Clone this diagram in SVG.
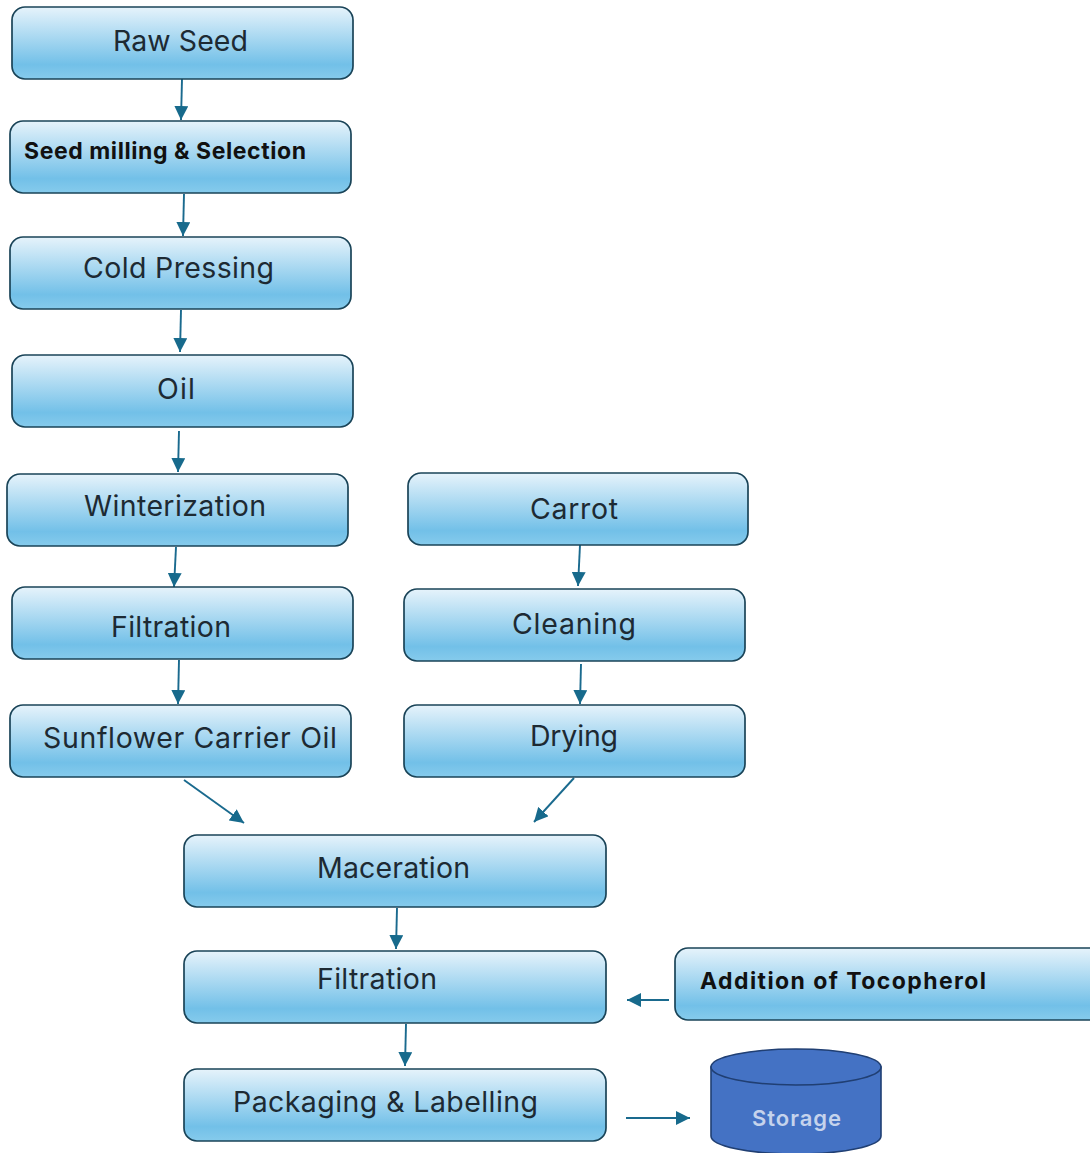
<svg xmlns="http://www.w3.org/2000/svg" width="1090" height="1153" viewBox="0 0 1090 1153">
<style>
text{font-family:Inter,"Open Sans","Liberation Sans",sans-serif;font-size:28.5px;fill:#1d2a33}
.b{fill:url(#g);stroke:#1a4458;stroke-width:1.7}
.bold{font-size:23px;font-weight:700;fill:#111}
.c{fill:none;stroke:#1a6a8e;stroke-width:1.9;marker-end:url(#a)}
</style>
<defs>
<linearGradient id="g" x1="0" y1="0" x2="0" y2="1"><stop offset="0" stop-color="#e6f3fb"/><stop offset=".8" stop-color="#72c0e8"/><stop offset="1" stop-color="#86cbec"/></linearGradient>
<marker id="a" markerUnits="userSpaceOnUse" markerWidth="16" markerHeight="14" refX="14" refY="7" orient="auto"><path d="M0 0L14 7L0 14z" fill="#176a8c"/></marker>
</defs>
<rect width="1090" height="1153" fill="#fff"/>
<g id="connectors">
<path class="c" d="M182 79L181 120"/>
<path class="c" d="M184 194L183 236"/>
<path class="c" d="M181 310L180 352"/>
<path class="c" d="M179 431L178 472"/>
<path class="c" d="M176 547L174 587"/>
<path class="c" d="M179 660L178 704"/>
<path class="c" d="M580 545L578 586"/>
<path class="c" d="M581 664L580 704"/>
<path class="c" d="M184 780L244 823"/>
<path class="c" d="M574 778L534 822"/>
<path class="c" d="M397 908L396 949"/>
<path class="c" d="M406 1024L405 1066"/>
<path class="c" d="M669 1000L627 1000"/>
<path class="c" d="M626 1118L690 1118"/>
</g>
<g id="raw-seed"><rect class="b" x="12" y="7" width="341" height="72" rx="13"/><text x="113" y="51" textLength="135">Raw Seed</text></g>
<g id="seed-milling"><rect class="b" x="10" y="121" width="341" height="72" rx="13"/><text class="bold" x="24" y="159" textLength="282">Seed milling &amp; Selection</text></g>
<g id="cold-pressing"><rect class="b" x="10" y="237" width="341" height="72" rx="13"/><text x="83" y="278" textLength="191">Cold Pressing</text></g>
<g id="oil"><rect class="b" x="12" y="355" width="341" height="72" rx="13"/><text x="157" y="399" textLength="38">Oil</text></g>
<g id="winterization"><rect class="b" x="7" y="474" width="341" height="72" rx="13"/><text x="84" y="516" textLength="182">Winterization</text></g>
<g id="filtration-1"><rect class="b" x="12" y="587" width="341" height="72" rx="13"/><text x="111" y="637" textLength="120">Filtration</text></g>
<g id="sunflower"><rect class="b" x="10" y="705" width="341" height="72" rx="13"/><text x="43" y="748" textLength="294">Sunflower Carrier Oil</text></g>
<g id="carrot"><rect class="b" x="408" y="473" width="340" height="72" rx="13"/><text x="530" y="519" textLength="88">Carrot</text></g>
<g id="cleaning"><rect class="b" x="404" y="589" width="341" height="72" rx="13"/><text x="512" y="634" textLength="124">Cleaning</text></g>
<g id="drying"><rect class="b" x="404" y="705" width="341" height="72" rx="13"/><text x="530" y="746" textLength="88">Drying</text></g>
<g id="maceration"><rect class="b" x="184" y="835" width="422" height="72" rx="13"/><text x="317" y="878" textLength="153">Maceration</text></g>
<g id="filtration-2"><rect class="b" x="184" y="951" width="422" height="72" rx="13"/><text x="317" y="989" textLength="120">Filtration</text></g>
<g id="packaging"><rect class="b" x="184" y="1069" width="422" height="72" rx="13"/><text x="233" y="1112" textLength="305">Packaging &amp; Labelling</text></g>
<g id="tocopherol"><rect class="b" x="675" y="948" width="430" height="72" rx="13"/><text class="bold" x="700" y="989" textLength="286">Addition of Tocopherol</text></g>
<g id="storage">
<path d="M711 1067V1136C711 1146 749 1154 796 1154S881 1146 881 1136V1067z" fill="#4472c4" stroke="#203f73" stroke-width="1.6"/>
<ellipse cx="796" cy="1067" rx="85" ry="18" fill="#4472c4" stroke="#203f73" stroke-width="1.6"/>
<text x="752" y="1126" textLength="89" style="font-size:22px;fill:#c5d3ec;font-weight:600">Storage</text>
</g>
</svg>
